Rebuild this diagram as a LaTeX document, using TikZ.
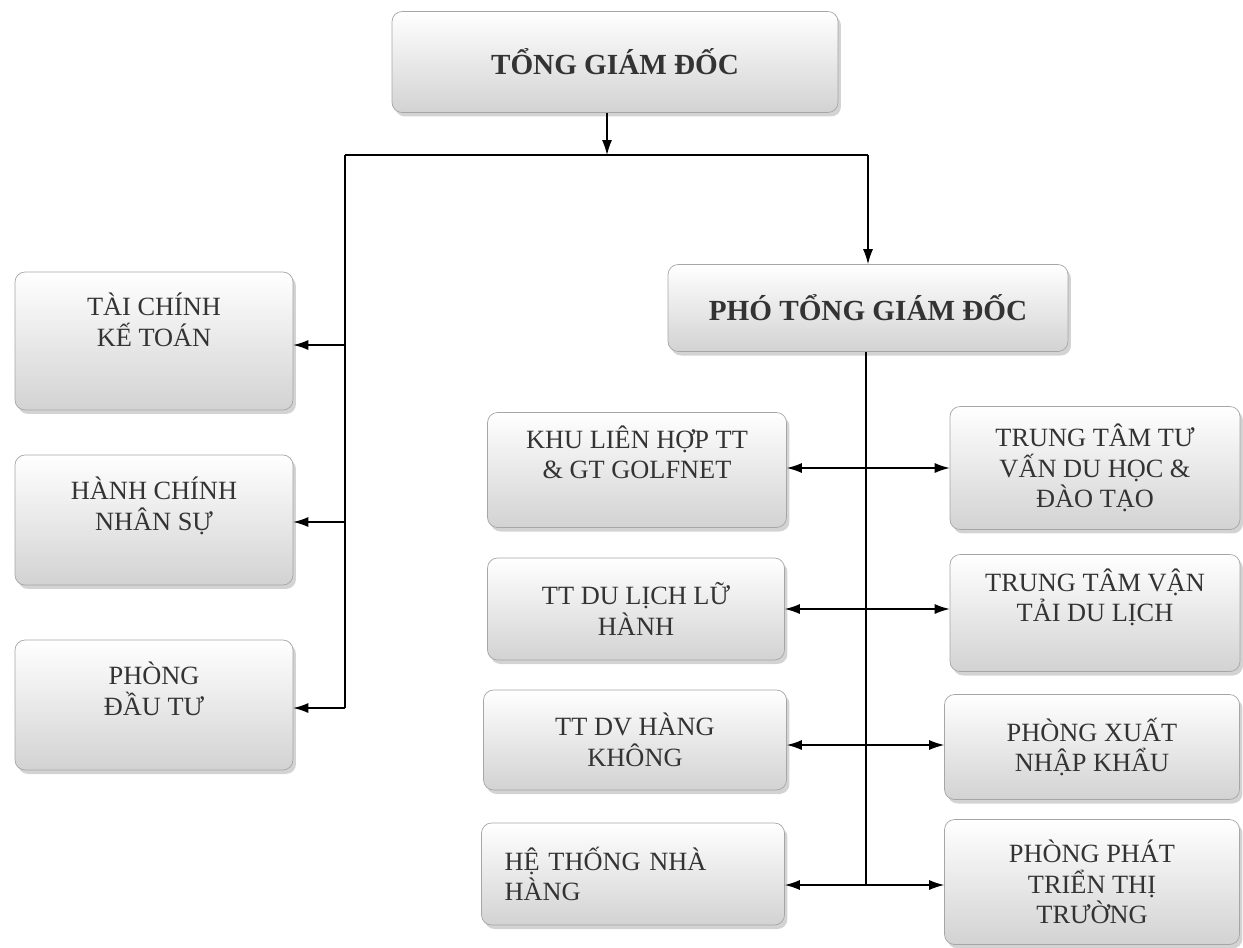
\documentclass[tikz,border=0pt]{standalone}
\usepackage{fontspec}
\setmainfont{Liberation Serif}
\usetikzlibrary{arrows.meta,shadows}

\begin{document}
\begin{tikzpicture}[x=0.02cm,y=-0.02cm,
  box/.style={draw=gray!70,rounded corners=2mm,top color=white,bottom color=gray!35,
    drop shadow={shadow xshift=.6mm,shadow yshift=-.8mm,opacity=.35},
    align=center,inner sep=0pt,text=black!80,font=\fontsize{15}{17.5}\selectfont},
  head/.style={box,font=\fontsize{16.6}{19}\selectfont\bfseries},
  txt/.style={align=center,text=black!80,font=\fontsize{15}{17.5}\selectfont},
  arr/.style={-{Latex[length=3mm,width=2mm]},line width=.7pt},
  link/.style={line width=.7pt}]
\useasboundingbox (0,0) rectangle (1243,947);
% head office
\node[head,minimum width=8.92cm,minimum height=2.02cm] (tgd) at (615,62) {TỔNG GIÁM ĐỐC};
\node[head,minimum width=8cm,minimum height=1.74cm] (ptgd) at (868,308) {PHÓ TỔNG GIÁM ĐỐC};
% left column
\node[box,minimum width=5.56cm,minimum height=2.76cm] (tckt) at (154,341) {};
\node[txt] (tcktt) at (154,320) {TÀI CHÍNH\\KẾ TOÁN};
\node[box,minimum width=5.56cm,minimum height=2.6cm] (hcns) at (154,520) {};
\node[txt] (hcnst) at (154,506) {HÀNH CHÍNH\\NHÂN SỰ};
\node[box,minimum width=5.56cm,minimum height=2.6cm] (pdt) at (154,705) {};
\node[txt] (pdtt) at (154,689) {PHÒNG\\ĐẦU TƯ};
% under the deputy
\node[box,minimum width=5.98cm,minimum height=2.3cm] (khu) at (637,470) {KHU LIÊN HỢP TT\\\& GT GOLFNET\\[1mm]};
\node[box,minimum width=5.94cm,minimum height=2.04cm] (ttdl) at (636,609) {TT DU LỊCH LỮ\\HÀNH};
\node[box,minimum width=6.06cm,minimum height=2cm] (ttdv) at (635,740) {TT DV HÀNG\\KHÔNG};
\node[box,minimum width=6.06cm,minimum height=2.04cm,text width=5.14cm,align=left] (htnh) at (633,874) {HỆ THỐNG NHÀ\\HÀNG};
\node[box,minimum width=5.8cm,minimum height=2.46cm] (tvdh) at (1095,468) {TRUNG TÂM TƯ\\VẤN DU HỌC \&\\ĐÀO TẠO};
\node[box,minimum width=5.8cm,minimum height=2.34cm] (ttvt) at (1095,613) {TRUNG TÂM VẬN\\TẢI DU LỊCH\\[1mm]};
\node[box,minimum width=5.9cm,minimum height=2.1cm] (pxnk) at (1092,747) {PHÒNG XUẤT\\NHẬP KHẨU};
\node[box,minimum width=5.9cm,minimum height=2.5cm] (ppt) at (1092,882) {PHÒNG PHÁT\\TRIỂN THỊ\\TRƯỜNG};
% bus
\coordinate (t0) at (607,155);
\coordinate (bl) at (345,155);
\coordinate (br) at (868,155);
\draw[arr] (tgd.south -| t0) -- (t0);
\draw[link] (bl) -- (br);
\draw[arr] (br) -- (ptgd.north);
\coordinate (l1) at (345,345);
\coordinate (l2) at (345,522);
\coordinate (l3) at (345,708);
\draw[link] (bl) -- (l3);
\draw[arr] (l1) -- (tckt.east |- l1);
\draw[arr] (l2) -- (hcns.east |- l2);
\draw[arr] (l3) -- (pdt.east |- l3);
% spine
\coordinate (s1) at (866,468);
\coordinate (s2) at (866,609);
\coordinate (s3) at (866,745);
\coordinate (s4) at (866,885);
\draw[link] (ptgd.south -| s1) -- (s4);
\foreach \s/\a/\b in {s1/khu/tvdh,s2/ttdl/ttvt,s3/ttdv/pxnk,s4/htnh/ppt}{
  \draw[arr] (\s) -- (\a.east |- \s);
  \draw[arr] (\s) -- (\b.west |- \s);
}
\end{tikzpicture}
\end{document}
